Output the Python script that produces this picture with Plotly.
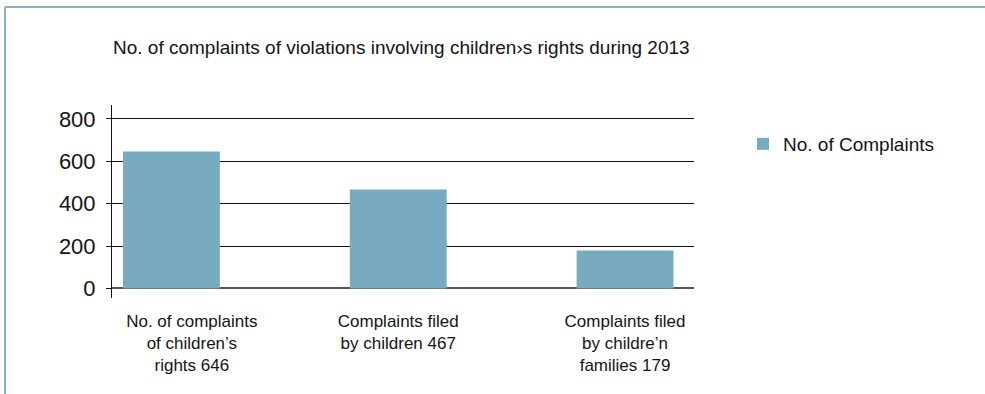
import plotly.graph_objects as go

# Chart data
categories = [
    "No. of complaints<br>of children’s<br>rights 646",
    "Complaints filed<br>by children 467",
    "Complaints filed<br>by childre’n<br>families 179",
]
complaints = [646, 467, 179]
series_name = "No. of Complaints"
title_text = "No. of complaints of violations involving children›s rights during 2013"
y_ticks = [0, 200, 400, 600, 800]

BAR_COLOR = "#78aac0"
FRAME_COLOR = "#86b3c6"
TEXT_COLOR = "#141414"
FONT = "Liberation Sans, Arial, Helvetica, sans-serif"

positions = list(range(len(categories)))
# the first category label sits a little to the right, clear of the value axis
label_positions = [p + (0.09 if i == 0 else 0.0) for i, p in enumerate(positions)]

fig = go.Figure()
fig.add_trace(go.Bar(
    x=positions,
    y=complaints,
    name=series_name,
    marker=dict(color=BAR_COLOR, line=dict(width=0)),
    width=0.427,
    showlegend=True,
))

fig.update_layout(
    width=985,
    height=394,
    paper_bgcolor="white",
    plot_bgcolor="white",
    margin=dict(l=112, r=291, t=105, b=96, autoexpand=False),
    font=dict(family=FONT, color=TEXT_COLOR),
    showlegend=True,
    title=dict(
        text=title_text,
        x=113 / 985, xanchor="left",
        y=1 - 47 / 394, yanchor="middle",
        font=dict(size=19, color=TEXT_COLOR, family=FONT),
    ),
    legend=dict(
        x=(743 - 112) / 582, xanchor="left",
        y=1 - 144 / 394, yref="container", yanchor="middle",
        font=dict(size=19, color=TEXT_COLOR),
        bgcolor="rgba(0,0,0,0)",
    ),
)

fig.update_xaxes(
    range=[-0.262, 2.304],
    tickmode="array",
    tickvals=label_positions,
    ticktext=categories,
    showgrid=False,
    zeroline=False,
    showline=False,
    ticks="",
    tickfont=dict(size=17, color=TEXT_COLOR),
    ticklabelstandoff=11,
)

fig.update_yaxes(
    range=[-45, 866],
    tickmode="array",
    tickvals=y_ticks,
    showgrid=True,
    gridcolor="#111111",
    gridwidth=1,
    zeroline=True,
    zerolinecolor="#555555",
    zerolinewidth=2,
    showline=True,
    linecolor="#111111",
    linewidth=1,
    ticks="outside",
    ticklen=5,
    tickcolor="#111111",
    tickfont=dict(size=22, color=TEXT_COLOR),
    ticklabelstandoff=6,
)

# Thin frame along the top and left edges of the page
top_y = 1 + (105 - 7) / 193
left_x = -(112 - 5) / 582
fig.add_shape(type="line", xref="paper", yref="paper",
              x0=left_x, x1=(985 - 112) / 582 + 0.01, y0=top_y, y1=top_y,
              line=dict(color=FRAME_COLOR, width=2))
fig.add_shape(type="line", xref="paper", yref="paper",
              x0=left_x, x1=left_x, y0=top_y, y1=-(96 + 5) / 193,
              line=dict(color=FRAME_COLOR, width=2))

fig.write_html("out.html")
